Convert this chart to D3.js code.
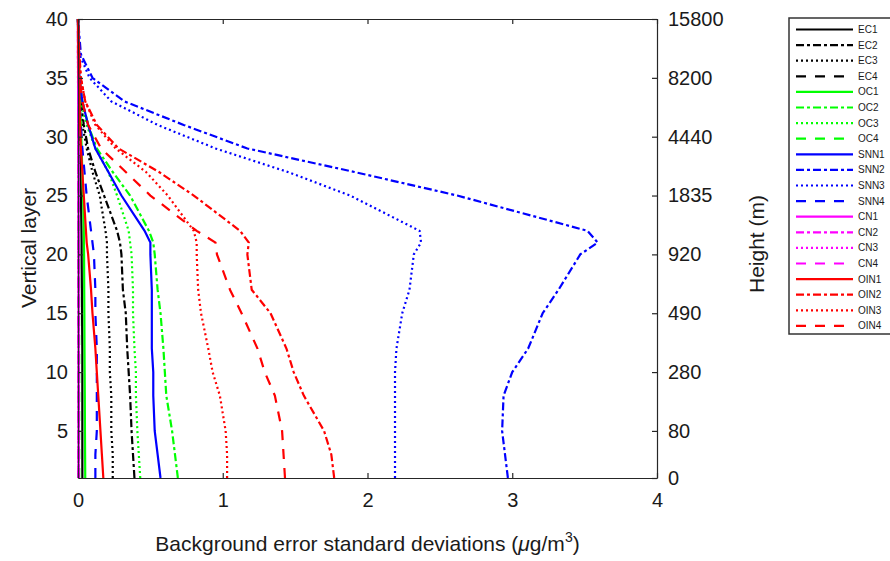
<!DOCTYPE html>
<html>
<head>
<meta charset="utf-8">
<script src="https://cdn.jsdelivr.net/npm/d3@7"></script>
<style>
  body { margin: 0; background: #fff; }
  text { font-family: "Liberation Sans", Arial, sans-serif; }
</style>
</head>
<body>
<div id="chart"></div>
<script>
var layers = [1, 3, 5, 8, 10, 12, 15, 17, 20, 21, 22, 25, 27, 29, 31, 33, 35, 37, 40];

var EC1  = [0.03, 0.03, 0.03, 0.03, 0.03, 0.03, 0.028, 0.027, 0.025, 0.025, 0.024, 0.02, 0.017, 0.013, 0.01, 0.007, 0.004, 0.002, 0];
var EC2  = [0.39, 0.38, 0.37, 0.36, 0.35, 0.34, 0.33, 0.31, 0.30, 0.29, 0.27, 0.18, 0.12, 0.07, 0.04, 0.02, 0.006, 0.002, 0];
var EC3  = [0.24, 0.24, 0.23, 0.23, 0.22, 0.22, 0.21, 0.21, 0.20, 0.20, 0.19, 0.15, 0.10, 0.06, 0.03, 0.015, 0.005, 0.002, 0];
var EC4  = [0.006, 0.006, 0.006, 0.006, 0.006, 0.006, 0.005, 0.005, 0.005, 0.005, 0.005, 0.004, 0.003, 0.003, 0.002, 0.002, 0.001, 0.001, 0];
var OC1  = [0.05, 0.049, 0.048, 0.047, 0.046, 0.045, 0.044, 0.043, 0.042, 0.041, 0.04, 0.035, 0.03, 0.025, 0.02, 0.012, 0.006, 0.002, 0];
var OC2  = [0.69, 0.67, 0.65, 0.61, 0.60, 0.59, 0.57, 0.55, 0.53, 0.52, 0.49, 0.36, 0.24, 0.13, 0.07, 0.03, 0.01, 0.003, 0];
var OC3  = [0.43, 0.42, 0.41, 0.40, 0.40, 0.39, 0.38, 0.38, 0.37, 0.36, 0.35, 0.27, 0.21, 0.12, 0.06, 0.02, 0.01, 0.003, 0];
var OC4  = [0.008, 0.008, 0.008, 0.008, 0.008, 0.008, 0.007, 0.007, 0.007, 0.006, 0.006, 0.005, 0.004, 0.003, 0.003, 0.002, 0.001, 0.001, 0];
var SNN1 = [0.57, 0.55, 0.53, 0.52, 0.52, 0.51, 0.51, 0.51, 0.50, 0.50, 0.46, 0.30, 0.21, 0.12, 0.07, 0.03, 0.01, 0.003, 0];
var SNN2 = [2.97, 2.95, 2.93, 2.94, 3.00, 3.11, 3.21, 3.32, 3.47, 3.59, 3.52, 2.62, 1.91, 1.17, 0.73, 0.32, 0.10, 0.02, 0];
var SNN3 = [2.19, 2.19, 2.19, 2.19, 2.19, 2.20, 2.24, 2.29, 2.32, 2.37, 2.36, 1.88, 1.45, 0.95, 0.55, 0.23, 0.08, 0.01, 0];
var SNN4 = [0.12, 0.12, 0.13, 0.13, 0.13, 0.13, 0.12, 0.12, 0.11, 0.10, 0.09, 0.06, 0.045, 0.03, 0.02, 0.01, 0.005, 0.002, 0];
var CN1  = [0.004, 0.004, 0.004, 0.004, 0.004, 0.004, 0.004, 0.004, 0.004, 0.004, 0.004, 0.003, 0.003, 0.002, 0.002, 0.001, 0.001, 0, 0];
var CN2  = [0.005, 0.005, 0.005, 0.005, 0.005, 0.005, 0.005, 0.005, 0.005, 0.005, 0.004, 0.004, 0.003, 0.003, 0.002, 0.001, 0.001, 0, 0];
var CN3  = [0.003, 0.003, 0.003, 0.003, 0.003, 0.003, 0.003, 0.003, 0.003, 0.003, 0.003, 0.002, 0.002, 0.002, 0.001, 0.001, 0, 0, 0];
var CN4  = [0.004, 0.004, 0.004, 0.004, 0.004, 0.004, 0.004, 0.004, 0.004, 0.003, 0.003, 0.003, 0.002, 0.002, 0.001, 0.001, 0.001, 0, 0];
var OIN1 = [0.175, 0.165, 0.155, 0.14, 0.13, 0.12, 0.10, 0.09, 0.07, 0.06, 0.055, 0.04, 0.03, 0.02, 0.015, 0.01, 0.005, 0.003, 0];
var OIN2 = [1.77, 1.75, 1.70, 1.56, 1.49, 1.44, 1.33, 1.20, 1.17, 1.18, 1.12, 0.80, 0.56, 0.28, 0.13, 0.05, 0.02, 0.01, 0];
var OIN3 = [1.03, 1.03, 1.02, 0.98, 0.93, 0.90, 0.85, 0.83, 0.82, 0.82, 0.80, 0.62, 0.47, 0.26, 0.12, 0.05, 0.02, 0.005, 0];
var OIN4 = [1.43, 1.42, 1.41, 1.36, 1.29, 1.24, 1.13, 1.05, 0.96, 0.95, 0.82, 0.50, 0.33, 0.16, 0.07, 0.03, 0.01, 0.005, 0];

var seriesNames = ["EC1", "EC2", "EC3", "EC4", "OC1", "OC2", "OC3", "OC4",
                   "SNN1", "SNN2", "SNN3", "SNN4", "CN1", "CN2", "CN3", "CN4",
                   "OIN1", "OIN2", "OIN3", "OIN4"];
var seriesValues = [EC1, EC2, EC3, EC4, OC1, OC2, OC3, OC4,
                    SNN1, SNN2, SNN3, SNN4, CN1, CN2, CN3, CN4,
                    OIN1, OIN2, OIN3, OIN4];

var xTicks = [0, 1, 2, 3, 4];
var layerTicks = [5, 10, 15, 20, 25, 30, 35, 40];
var heightTickLayers = [1, 5, 10, 15, 20, 25, 30, 35, 40];
var heightLabels = ["0", "80", "280", "490", "920", "1835", "4440", "8200", "15800"];

var groupColors = ["#000000", "#00ff00", "#0000ff", "#ff00ff", "#ff0000"];
var styleDash = [null, "8,3,3,3", "2,3", "10,9"];

var margin = {top: 19, left: 78},
    width = 579,
    height = 459;

var svg = d3.select("#chart")
    .append("svg")
        .attr("width", 890)
        .attr("height", 561);

var g = svg.append("g")
    .attr("transform", "translate(" + margin.left + "," + margin.top + ")");

var x = d3.scaleLinear().domain([0, 4]).range([0, width]);
var y = d3.scaleLinear().domain([1, 40]).range([height, 0]);

var line = d3.line()
    .x(function(d) { return x(d.v); })
    .y(function(d) { return y(d.layer); });

// profiles
seriesValues.forEach(function(vals, i) {
    var pts = layers.map(function(l, j) { return {layer: l, v: vals[j]}; });
    g.append("path")
        .datum(pts)
        .attr("d", line)
        .attr("fill", "none")
        .attr("stroke", groupColors[Math.floor(i / 4)])
        .attr("stroke-width", 2.2)
        .attr("stroke-dasharray", styleDash[i % 4]);
});

// axes, MATLAB style ticks pointing inward
var axisColor = "#262626";

g.append("g")
    .attr("transform", "translate(0," + height + ")")
    .call(d3.axisBottom(x).tickValues(xTicks).tickFormat(d3.format("d"))
        .tickSizeInner(-5).tickSizeOuter(0).tickPadding(15));

g.append("g")
    .call(d3.axisTop(x).tickValues(xTicks).tickFormat("")
        .tickSizeInner(-5).tickSizeOuter(0));

g.append("g")
    .call(d3.axisLeft(y).tickValues(layerTicks).tickFormat(d3.format("d"))
        .tickSizeInner(-5).tickSizeOuter(0).tickPadding(10));

g.append("g")
    .attr("transform", "translate(" + width + ",0)")
    .call(d3.axisRight(y).tickValues(heightTickLayers)
        .tickFormat(function(d, i) { return heightLabels[i]; })
        .tickSizeInner(-5).tickSizeOuter(0).tickPadding(11));

g.selectAll(".domain").attr("stroke", axisColor).attr("stroke-width", 1.2);
g.selectAll(".tick line").attr("stroke", axisColor).attr("stroke-width", 1.2);
g.selectAll(".tick text")
    .attr("font-family", "'Liberation Sans', Arial, sans-serif")
    .attr("font-size", "20px")
    .attr("fill", "#1a1a1a");

// axis titles
svg.append("text")
    .attr("transform", "translate(36,248) rotate(-90)")
    .attr("text-anchor", "middle")
    .attr("font-size", "21px")
    .attr("fill", "#1a1a1a")
    .text("Vertical layer");

svg.append("text")
    .attr("transform", "translate(764,244) rotate(-90)")
    .attr("text-anchor", "middle")
    .attr("font-size", "21px")
    .attr("fill", "#1a1a1a")
    .text("Height (m)");

var xt = svg.append("text")
    .attr("x", margin.left + width / 2)
    .attr("y", 551)
    .attr("text-anchor", "middle")
    .attr("font-size", "21px")
    .attr("fill", "#1a1a1a");
xt.append("tspan").text("Background error standard deviations (");
xt.append("tspan").attr("font-style", "italic").text("\u03bc");
xt.append("tspan").text("g/m");
xt.append("tspan").attr("font-size", "14px").attr("dy", -9).text("3");
xt.append("tspan").attr("dy", 9).text(")");

// legend
var legend = svg.append("g").attr("transform", "translate(789,18)");
legend.append("rect")
    .attr("x", 0).attr("y", 0)
    .attr("width", 110).attr("height", 316)
    .attr("fill", "#fff")
    .attr("stroke", "#333")
    .attr("stroke-width", 1.5);

seriesNames.forEach(function(name, i) {
    var ly = 11.5 + i * 15.6;
    legend.append("line")
        .attr("x1", 7).attr("x2", 64)
        .attr("y1", ly).attr("y2", ly)
        .attr("stroke", groupColors[Math.floor(i / 4)])
        .attr("stroke-width", 2.2)
        .attr("stroke-dasharray", styleDash[i % 4]);
    legend.append("text")
        .attr("x", 69).attr("y", ly + 3.5)
        .attr("font-size", "10px")
        .attr("fill", "#1a1a1a")
        .text(name);
});
</script>
</body>
</html>
